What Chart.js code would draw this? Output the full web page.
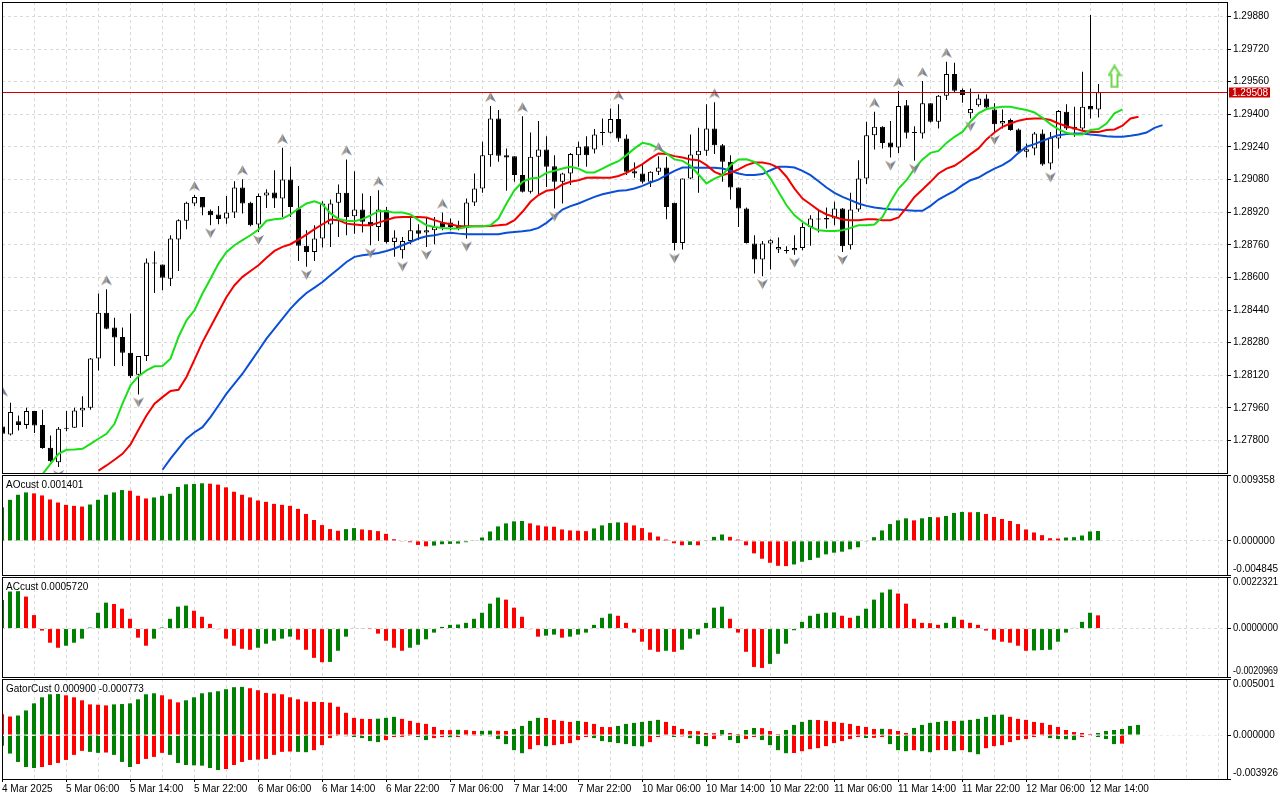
<!DOCTYPE html>
<html>
<head>
<meta charset="utf-8">
<title>GBPUSD H1 - Alligator, AO, AC, Gator</title>
<script src="https://cdn.jsdelivr.net/npm/chart.js"></script>
<style>
  html, body { margin: 0; padding: 0; background: #fff; width: 1280px; height: 800px; overflow: hidden; }
  canvas { position: absolute; left: 0; }
</style>
</head>
<body>
<canvas id="mainChart" width="1280" height="475" style="top:0"></canvas>
<canvas id="aoChart" width="1280" height="101" style="top:475px"></canvas>
<canvas id="acChart" width="1280" height="101" style="top:577px"></canvas>
<canvas id="gatorChart" width="1280" height="121" style="top:679px"></canvas>
<script>
// H1 bars, index 0 = 4 Mar 22:00
const opens = [1.27869,1.27830,1.27895,1.27877,1.27945,1.27877,1.27765,1.27694,1.27858,1.27863,
  1.27948,1.27961,1.28202,1.28427,1.28354,1.28308,1.28231,1.28123,1.28215,1.28670,
  1.28663,1.28594,1.28786,1.28878,1.28963,1.28995,1.28927,1.28909,1.28889,1.28918,
  1.29041,1.28966,1.28860,1.29002,1.29017,1.28987,1.29080,1.28938,1.28755,1.28725,
  1.28791,1.28860,1.28966,1.29015,1.28900,1.28933,1.28873,1.28848,1.28930,1.28774,
  1.28733,1.28779,1.28832,1.28820,1.28832,1.28869,1.28869,1.28856,1.28843,1.28968,
  1.29036,1.29200,1.29380,1.29200,1.29195,1.29102,1.29020,1.29192,1.29228,1.29146,
  1.29069,1.29110,1.29200,1.29244,1.29228,1.29310,1.29310,1.29377,1.29282,1.29121,
  1.29110,1.29069,1.29118,1.29139,1.28966,1.28769,1.29085,1.29200,1.29221,1.29331,
  1.29249,1.29167,1.29041,1.28938,1.28766,1.28688,1.28766,1.28737,1.28733,1.28733,
  1.28745,1.28848,1.28889,1.28884,1.28889,1.28938,1.28758,1.28933,1.29085,1.29298,
  1.29339,1.29262,1.29238,1.29445,1.29311,1.29306,1.29454,1.29364,1.29491,1.29598,
  1.29519,1.29405,1.29445,1.29478,1.29424,1.29355,1.29372,1.29326,1.29216,1.29233,
  1.29306,1.29159,1.29282,1.29413,1.29339,1.29331,1.29441,1.29424];
const highs = [1.27997,1.27986,1.27923,1.27961,1.27945,1.27951,1.27825,1.27866,1.27945,1.27961,
  1.28018,1.28205,1.28521,1.28542,1.28403,1.28354,1.28423,1.28215,1.28693,1.28729,
  1.28663,1.28807,1.28886,1.28971,1.29004,1.28995,1.28933,1.28950,1.29000,1.29072,
  1.29082,1.28971,1.29012,1.29033,1.29126,1.29236,1.29143,1.29048,1.28832,1.28856,
  1.28974,1.28982,1.29056,1.29179,1.29121,1.29012,1.28999,1.29028,1.28946,1.28832,
  1.28799,1.28894,1.28861,1.28897,1.28897,1.28918,1.28889,1.28878,1.28987,1.29110,
  1.29265,1.29441,1.29421,1.29233,1.29195,1.29391,1.29311,1.29367,1.29293,1.29200,
  1.29113,1.29211,1.29265,1.29293,1.29328,1.29380,1.29429,1.29450,1.29301,1.29164,
  1.29151,1.29121,1.29195,1.29192,1.28966,1.29085,1.29301,1.29334,1.29450,1.29459,
  1.29254,1.29200,1.29041,1.28943,1.28807,1.28779,1.28787,1.28796,1.28753,1.28807,
  1.28868,1.28905,1.28930,1.28943,1.28971,1.28941,1.29015,1.29175,1.29364,1.29413,
  1.29342,1.29367,1.29514,1.29470,1.29342,1.29563,1.29454,1.29495,1.29658,1.29653,
  1.29527,1.29527,1.29498,1.29498,1.29454,1.29424,1.29380,1.29331,1.29257,1.29314,
  1.29326,1.29314,1.29421,1.29450,1.29437,1.29609,1.29887,1.29549];
const lows = [1.27825,1.27825,1.27850,1.27858,1.27837,1.27760,1.27696,1.27670,1.27846,1.27863,
  1.27866,1.27951,1.28144,1.28346,1.28166,1.28166,1.28107,1.28026,1.28190,1.28524,
  1.28537,1.28558,1.28632,1.28837,1.28951,1.28905,1.28856,1.28861,1.28864,1.28892,
  1.28914,1.28851,1.28823,1.28941,1.28941,1.28897,1.28897,1.28681,1.28652,1.28681,
  1.28747,1.28750,1.28799,1.28807,1.28815,1.28820,1.28758,1.28779,1.28766,1.28701,
  1.28693,1.28763,1.28783,1.28750,1.28763,1.28832,1.28832,1.28832,1.28791,1.28951,
  1.29015,1.29143,1.29167,1.29025,1.29069,1.29017,1.29012,1.29004,1.29044,1.28938,
  1.28963,1.29053,1.29143,1.29143,1.29208,1.29249,1.29306,1.29265,1.29102,1.29089,
  1.29061,1.29044,1.29102,1.28886,1.28733,1.28737,1.29082,1.29015,1.29197,1.29205,
  1.29069,1.28982,1.28848,1.28766,1.28619,1.28606,1.28639,1.28720,1.28717,1.28712,
  1.28733,1.28755,1.28820,1.28840,1.28856,1.28725,1.28737,1.28922,1.29058,1.29228,
  1.29233,1.29188,1.29211,1.29282,1.29172,1.29282,1.29360,1.29331,1.29470,1.29506,
  1.29457,1.29380,1.29437,1.29429,1.29314,1.29331,1.29319,1.29211,1.29188,1.29200,
  1.29148,1.29130,1.29233,1.29323,1.29290,1.29323,1.29380,1.29385];
const closes = [1.27833,1.27940,1.27877,1.27945,1.27874,1.27763,1.27699,1.27858,1.27863,1.27948,
  1.27961,1.28202,1.28427,1.28349,1.28305,1.28231,1.28116,1.28215,1.28673,1.28668,
  1.28598,1.28791,1.28881,1.28966,1.28995,1.28943,1.28905,1.28887,1.28918,1.29041,
  1.28963,1.28856,1.29000,1.29017,1.28987,1.29080,1.28946,1.28755,1.28725,1.28791,
  1.28963,1.28963,1.29015,1.28897,1.28933,1.28873,1.28851,1.28933,1.28774,1.28796,
  1.28779,1.28832,1.28815,1.28832,1.28848,1.28848,1.28848,1.28843,1.28968,1.29036,
  1.29200,1.29380,1.29197,1.29188,1.29102,1.29020,1.29192,1.29228,1.29143,1.29069,
  1.29110,1.29205,1.29241,1.29200,1.29301,1.29308,1.29377,1.29282,1.29118,1.29110,
  1.29069,1.29118,1.29139,1.28946,1.28769,1.29085,1.29203,1.29221,1.29331,1.29249,
  1.29167,1.29041,1.28938,1.28769,1.28688,1.28766,1.28783,1.28750,1.28730,1.28745,
  1.28848,1.28889,1.28884,1.28892,1.28938,1.28753,1.28933,1.29085,1.29298,1.29339,
  1.29260,1.29238,1.29441,1.29310,1.29308,1.29454,1.29364,1.29491,1.29598,1.29516,
  1.29495,1.29426,1.29478,1.29434,1.29352,1.29367,1.29323,1.29216,1.29229,1.29306,
  1.29154,1.29285,1.29416,1.29331,1.29326,1.29437,1.29424,1.29508];

// Alligator lines (already shifted forward), first bar index of each
const lipsStart = 5;
const lipsValues = [1.27635,1.27686,1.27735,1.27755,1.27756,1.27760,1.27784,1.27809,1.27833,1.27882,
  1.27981,1.28071,1.28116,1.28144,1.28164,1.28166,1.28202,1.28308,1.28390,1.28439,
  1.28521,1.28594,1.28668,1.28725,1.28758,1.28783,1.28807,1.28835,1.28878,1.28886,
  1.28889,1.28909,1.28938,1.28963,1.28974,1.28959,1.28914,1.28887,1.28878,1.28876,
  1.28886,1.28905,1.28925,1.28925,1.28918,1.28918,1.28909,1.28881,1.28856,1.28848,
  1.28843,1.28840,1.28840,1.28848,1.28851,1.28851,1.28856,1.28889,1.28963,1.29028,
  1.29069,1.29085,1.29089,1.29113,1.29123,1.29134,1.29143,1.29134,1.29115,1.29115,
  1.29134,1.29154,1.29170,1.29200,1.29233,1.29260,1.29252,1.29233,1.29208,1.29179,
  1.29172,1.29148,1.29105,1.29061,1.29085,1.29102,1.29151,1.29179,1.29180,1.29167,
  1.29138,1.29085,1.29020,1.28954,1.28905,1.28873,1.28848,1.28832,1.28828,1.28828,
  1.28832,1.28843,1.28856,1.28856,1.28860,1.28897,1.28971,1.29036,1.29077,1.29134,
  1.29179,1.29211,1.29221,1.29260,1.29290,1.29314,1.29364,1.29405,1.29426,1.29432,
  1.29437,1.29437,1.29429,1.29421,1.29409,1.29383,1.29352,1.29326,1.29310,1.29301,
  1.29301,1.29323,1.29328,1.29355,1.29405,1.29424];
const teethStart = 12;
const teethValues = [1.27653,1.27678,1.27706,1.27735,1.27781,1.27853,1.27923,1.27981,
  1.28013,1.28043,1.28049,1.28112,1.28197,1.28283,1.28357,1.28431,1.28504,1.28562,
  1.28603,1.28632,1.28660,1.28697,1.28730,1.28750,1.28763,1.28786,1.28810,1.28837,
  1.28861,1.28884,1.28881,1.28864,1.28860,1.28856,1.28856,1.28869,1.28881,1.28894,
  1.28897,1.28897,1.28897,1.28894,1.28881,1.28869,1.28861,1.28851,1.28851,1.28851,
  1.28851,1.28853,1.28856,1.28860,1.28881,1.28922,1.28971,1.29004,1.29025,1.29031,
  1.29056,1.29069,1.29077,1.29089,1.29090,1.29089,1.29089,1.29098,1.29113,1.29134,
  1.29156,1.29184,1.29208,1.29205,1.29195,1.29188,1.29179,1.29175,1.29151,1.29118,
  1.29102,1.29113,1.29130,1.29151,1.29164,1.29164,1.29156,1.29138,1.29094,1.29036,
  1.28987,1.28959,1.28930,1.28909,1.28897,1.28884,1.28881,1.28881,1.28886,1.28886,
  1.28881,1.28881,1.28894,1.28943,1.28995,1.29031,1.29069,1.29110,1.29134,1.29148,
  1.29175,1.29205,1.29233,1.29277,1.29311,1.29339,1.29355,1.29369,1.29377,1.29380,
  1.29380,1.29372,1.29355,1.29342,1.29331,1.29319,1.29314,1.29314,1.29323,1.29326,
  1.29344,1.29380,1.29388];
const jawStart = 20;
const jawValues = [1.27657,1.27711,1.27760,1.27809,1.27841,1.27866,1.27915,1.27972,1.28030,1.28079,
  1.28128,1.28185,1.28242,1.28300,1.28349,1.28398,1.28447,1.28488,1.28524,1.28550,
  1.28578,1.28611,1.28643,1.28676,1.28701,1.28709,1.28714,1.28720,1.28730,1.28742,
  1.28758,1.28774,1.28791,1.28802,1.28807,1.28815,1.28819,1.28815,1.28812,1.28812,
  1.28812,1.28812,1.28812,1.28819,1.28823,1.28827,1.28832,1.28843,1.28868,1.28900,
  1.28933,1.28950,1.28963,1.28979,1.28995,1.29008,1.29017,1.29025,1.29028,1.29036,
  1.29049,1.29066,1.29080,1.29102,1.29123,1.29139,1.29139,1.29138,1.29138,1.29138,
  1.29134,1.29123,1.29110,1.29102,1.29102,1.29107,1.29126,1.29143,1.29143,1.29139,
  1.29123,1.29102,1.29072,1.29041,1.29015,1.28995,1.28979,1.28963,1.28951,1.28943,
  1.28938,1.28935,1.28933,1.28930,1.28927,1.28927,1.28951,1.28982,1.29004,1.29025,
  1.29053,1.29077,1.29090,1.29113,1.29134,1.29151,1.29175,1.29211,1.29241,1.29254,
  1.29270,1.29285,1.29298,1.29303,1.29306,1.29306,1.29301,1.29298,1.29293,1.29290,
  1.29290,1.29295,1.29301,1.29311,1.29334,1.29347];

const upFractals = [0, 13, 24, 30, 35, 43, 47, 55, 61, 65, 77, 82, 89, 109, 112, 115, 118];
const downFractals = [7, 17, 26, 32, 38, 46, 50, 53, 58, 69, 84, 95, 99, 105, 111, 114, 121, 124, 131];
const buySignal = { x: 139, y: 1.29586 };

const aoValues = [0.004782,0.005834,0.006551,0.006886,0.006743,0.006456,0.005882,0.005451,0.005117,0.004973,
  0.004878,0.005165,0.005834,0.006551,0.006886,0.007221,0.007125,0.006408,0.006025,0.006169,
  0.006408,0.006695,0.007651,0.008034,0.008082,0.008177,0.008129,0.007986,0.007603,0.006982,
  0.006551,0.006169,0.005738,0.005547,0.005260,0.005117,0.004973,0.004543,0.003826,0.002965,
  0.002248,0.001674,0.001435,0.001674,0.001817,0.001626,0.001530,0.001387,0.001004,0.000239,
  -0.000096,-0.000192,-0.000574,-0.000765,-0.000669,-0.000478,-0.000430,-0.000383,-0.000191,0.000048,
  0.000478,0.001339,0.002056,0.002487,0.002774,0.002821,0.002487,0.002200,0.002056,0.002008,
  0.001626,0.001482,0.001435,0.001387,0.001769,0.002200,0.002534,0.002630,0.002582,0.002200,
  0.001817,0.001196,0.000622,0.000191,-0.000335,-0.000622,-0.000574,-0.000622,0.000096,0.000574,
  0.000909,0.000574,0.000191,-0.000622,-0.001769,-0.002534,-0.003108,-0.003539,-0.003587,-0.003347,
  -0.002965,-0.002726,-0.002391,-0.001913,-0.001674,-0.001530,-0.001196,-0.000909,-0.000096,0.000526,
  0.001482,0.002391,0.002917,0.003204,0.002917,0.003204,0.003395,0.003347,0.003539,0.003969,
  0.004113,0.004065,0.004090,0.003826,0.003395,0.003108,0.002821,0.002391,0.001626,0.001196,
  0.000813,0.000383,0.000335,0.000478,0.000526,0.000765,0.001339,0.001401];
const acValues = [0.001239,0.001603,0.001618,0.001385,0.000583,-0.000087,-0.000612,-0.000831,-0.000743,-0.000612,
  -0.000437,0.000044,0.000685,0.001122,0.001064,0.000860,0.000423,-0.000394,-0.000743,-0.000437,
  0.000044,0.000423,0.000947,0.000991,0.000772,0.000510,0.000204,-0.000029,-0.000437,-0.000743,
  -0.000875,-0.000918,-0.000831,-0.000656,-0.000525,-0.000437,-0.000350,-0.000481,-0.000918,-0.001268,
  -0.001458,-0.001443,-0.000962,-0.000350,0.000029,0.000015,-0.000007,-0.000219,-0.000525,-0.000831,
  -0.000962,-0.000831,-0.000700,-0.000466,-0.000175,0.000073,0.000160,0.000175,0.000248,0.000423,
  0.000685,0.001079,0.001341,0.001253,0.000904,0.000510,-0.000029,-0.000350,-0.000306,-0.000262,
  -0.000394,-0.000350,-0.000262,-0.000175,0.000160,0.000466,0.000641,0.000554,0.000248,-0.000175,
  -0.000568,-0.000918,-0.001006,-0.000962,-0.001006,-0.000918,-0.000437,-0.000262,0.000248,0.000904,
  0.000947,0.000423,-0.000175,-0.001006,-0.001662,-0.001705,-0.001530,-0.001093,-0.000656,-0.000073,
  0.000292,0.000554,0.000641,0.000685,0.000700,0.000554,0.000466,0.000554,0.000860,0.001253,
  0.001560,0.001691,0.001516,0.001079,0.000423,0.000248,0.000233,0.000160,0.000248,0.000510,
  0.000379,0.000248,0.000160,-0.000087,-0.000481,-0.000568,-0.000612,-0.000743,-0.000962,-0.000947,
  -0.000932,-0.000918,-0.000568,-0.000175,0.000029,0.000292,0.000685,0.000572];
const gatorUpper = [0.001864,0.001653,0.001743,0.002194,0.002826,0.003367,0.003637,0.003667,0.003547,0.003367,
  0.003096,0.002735,0.002705,0.002645,0.002735,0.002766,0.002826,0.003186,0.003637,0.003727,
  0.003547,0.003186,0.002916,0.003096,0.003367,0.003727,0.003818,0.003908,0.004088,0.004269,
  0.004299,0.004178,0.003998,0.003758,0.003697,0.003637,0.003367,0.003186,0.002976,0.002960,
  0.002945,0.002886,0.002525,0.001984,0.001533,0.001443,0.001428,0.001458,0.001533,0.001623,
  0.001443,0.001263,0.001082,0.000992,0.000721,0.000451,0.000436,0.000466,0.000436,0.000361,
  0.000376,0.000391,0.000376,0.000361,0.000541,0.000812,0.001263,0.001533,0.001518,0.001353,
  0.001263,0.001172,0.001263,0.001172,0.000992,0.000721,0.000706,0.000812,0.000992,0.001082,
  0.001172,0.001263,0.001353,0.001172,0.000812,0.000541,0.000361,0.000346,0.000180,0.000165,
  0.000451,0.000180,0.000090,0.000451,0.000631,0.000616,0.000361,0.000090,0.000451,0.000902,
  0.001172,0.001353,0.001338,0.001263,0.001172,0.001082,0.000992,0.000812,0.000721,0.000541,
  0.000556,0.000526,0.000361,0.000180,0.000631,0.000902,0.001082,0.001172,0.001263,0.001248,
  0.001278,0.001353,0.001443,0.001623,0.001804,0.001819,0.001623,0.001443,0.001353,0.001172,
  0.001082,0.000902,0.000721,0.000451,0.000271,0.000180,0.000090,0.000180,0.000361,0.000451,
  0.000541,0.000812,0.000900];
const gatorLower = [-0.000962,-0.001653,-0.002405,-0.002856,-0.002946,-0.002856,-0.002675,-0.002495,-0.002224,-0.001774,
  -0.001413,-0.001503,-0.001593,-0.001563,-0.001774,-0.002405,-0.002856,-0.002585,-0.002134,-0.001954,
  -0.001593,-0.001774,-0.002495,-0.002675,-0.002705,-0.002735,-0.002946,-0.003126,-0.003036,-0.002675,
  -0.002405,-0.002224,-0.002194,-0.002134,-0.001774,-0.001503,-0.001473,-0.001503,-0.001533,-0.001353,
  -0.000902,-0.000271,-0.000090,-0.000105,-0.000180,-0.000271,-0.000541,-0.000631,-0.000451,-0.000180,
  -0.000165,-0.000090,-0.000180,-0.000451,-0.000271,-0.000180,-0.000195,-0.000180,-0.000090,-0.000075,
  -0.000090,-0.000105,-0.000361,-0.000812,-0.001353,-0.001623,-0.001263,-0.000902,-0.000992,-0.000902,
  -0.000812,-0.000721,-0.000451,-0.000180,-0.000271,-0.000541,-0.000631,-0.000721,-0.000812,-0.000992,
  -0.001007,-0.000631,-0.000180,-0.000060,-0.000180,-0.000120,-0.000271,-0.000812,-0.000992,-0.000361,
  -0.000090,-0.000451,-0.000721,-0.000361,-0.000180,-0.000451,-0.000902,-0.001353,-0.001623,-0.001608,
  -0.001443,-0.001263,-0.001172,-0.000992,-0.000721,-0.000541,-0.000361,-0.000180,-0.000271,-0.000256,
  -0.000180,-0.000812,-0.001353,-0.001443,-0.001353,-0.001443,-0.001533,-0.001353,-0.001338,-0.001443,
  -0.001353,-0.001533,-0.001713,-0.001172,-0.000992,-0.000902,-0.000631,-0.000451,-0.000361,-0.000180,
  -0.000090,-0.000271,-0.000361,-0.000376,-0.000451,-0.000180,-0.000090,-0.000180,-0.000361,-0.000812,
  -0.000773];

// axis labels
const priceTicks = [1.27800,1.27960,1.28120,1.28280,1.28440,1.28600,1.28760,1.28920,1.29080,1.29240,1.29400,1.29560,1.29720,1.29880];
const aoRange = [-0.004845, 0.009358];
const acRange = [-0.0020969, 0.0022321];
const gatorRange = [-0.003926, 0.005001];
const timeLabels = ["4 Mar 2025","5 Mar 06:00","5 Mar 14:00","5 Mar 22:00","6 Mar 06:00","6 Mar 14:00",
  "6 Mar 22:00","7 Mar 06:00","7 Mar 14:00","7 Mar 22:00","10 Mar 06:00","10 Mar 14:00",
  "10 Mar 22:00","11 Mar 06:00","11 Mar 14:00","11 Mar 22:00","12 Mar 06:00","12 Mar 14:00"];

const GREEN = "#008000";
const RED = "#ff0000";
const GRID = "#d9d9d9";
const FONT_FAMILY = "Liberation Sans";
const FONT_SIZE = 10;
const AXIS_W = 53;

Chart.defaults.font.family = FONT_FAMILY;
Chart.defaults.font.size = FONT_SIZE;
Chart.defaults.color = "#000";

const gridTicks = (scale) => {
  const ticks = [];
  for (let k = 0; k <= 152; k += 4) ticks.push({ value: k });
  scale.ticks = ticks;
};

const trendColors = (values, first, useAbs) =>
  values.map((v, i) => {
    if (i === 0) return first;
    const a = useAbs ? Math.abs(v) : v;
    const b = useAbs ? Math.abs(values[i - 1]) : values[i - 1];
    return a > b ? GREEN : RED;
  });

const makeFractal = (up) => {
  const c = document.createElement("canvas");
  c.width = 11;
  c.height = 32;
  const g = c.getContext("2d");
  const top = up ? 2 : 19;
  const tipY = up ? top : top + 10;
  const baseY = up ? top + 10 : top;
  const notchY = up ? top + 7 : top + 3;
  g.fillStyle = "#a69a86";
  g.beginPath();
  g.moveTo(5.5, tipY); g.lineTo(0, baseY); g.lineTo(5.5, notchY);
  g.closePath();
  g.fill();
  g.fillStyle = "#77829a";
  g.beginPath();
  g.moveTo(5.5, tipY); g.lineTo(11, baseY); g.lineTo(5.5, notchY);
  g.closePath();
  g.fill();
  return c;
};

const makeSignalArrow = () => {
  const c = document.createElement("canvas");
  c.width = 14;
  c.height = 24;
  const g = c.getContext("2d");
  g.beginPath();
  g.moveTo(7, 1.5); g.lineTo(12.5, 10.5); g.lineTo(10, 10.5); g.lineTo(10, 22.5);
  g.lineTo(4, 22.5); g.lineTo(4, 10.5); g.lineTo(1.5, 10.5);
  g.closePath();
  g.fillStyle = "#ffffff";
  g.fill();
  g.strokeStyle = "#33c833";
  g.lineWidth = 1.8;
  g.stroke();
  g.strokeStyle = "#d6e85a";
  g.lineWidth = 0.6;
  g.stroke();
  return c;
};

const paneFrame = (extra) => ({
  id: "paneFrame",
  afterDraw(chart) {
    const { ctx, chartArea: a, width } = chart;
    const yScale = chart.scales.y;
    ctx.save();
    ctx.font = FONT_SIZE + "px '" + FONT_FAMILY + "'";
    ctx.textBaseline = "middle";
    if (extra.bid !== undefined) {
      const py = Math.round(yScale.getPixelForValue(extra.bid)) + 0.5;
      ctx.strokeStyle = "#d00000";
      ctx.lineWidth = 1;
      ctx.beginPath();
      ctx.moveTo(a.left, py);
      ctx.lineTo(a.right, py);
      ctx.stroke();
      ctx.fillStyle = "#c80000";
      ctx.fillRect(a.right + 2, py - 5, 41, 10);
      ctx.fillStyle = "#fff";
      ctx.fillText(extra.bid.toFixed(5), a.right + 5, py + 0.5);
    }
    ctx.strokeStyle = "#000";
    ctx.lineWidth = 1;
    ctx.strokeRect(a.left + 0.5, a.top + 0.5, a.right - a.left, a.bottom - a.top);
    ctx.fillStyle = "#000";
    if (extra.title) ctx.fillText(extra.title, a.left + 4, a.top + 10);
    if (extra.range) {
      const [lo, hi] = extra.range;
      const x = a.right + 6;
      const room = width - x - 2;
      ctx.fillText(hi.toFixed(extra.decimals), x, a.top + 5.5, room);
      ctx.fillText((0).toFixed(extra.decimals), x, yScale.getPixelForValue(0), room);
      ctx.fillText(lo.toFixed(extra.decimals), x, a.bottom - 5.5, room);
    }
    ctx.restore();
  }
});

const baseOptions = (padding) => ({
  responsive: false,
  animation: false,
  events: [],
  layout: { padding, autoPadding: false },
  plugins: { legend: { display: false }, tooltip: { enabled: false } }
});

// ---------- main price pane ----------
const idx = opens.map((_, i) => i);
const upArrow = makeFractal(true);
const downArrow = makeFractal(false);

const mainOptions = baseOptions({ left: 2, top: 2, right: 0, bottom: 2 });
mainOptions.scales = {
  x: {
    type: "linear",
    min: -0.0625,
    max: 153.0625,
    offset: false,
    grid: { color: GRID, drawTicks: false, offset: false },
    border: { display: false, dash: [3, 3] },
    ticks: { display: false },
    afterBuildTicks: gridTicks,
    afterFit: (s) => { s.height = 0; s.paddingLeft = 0; s.paddingRight = 0; }
  },
  y: {
    position: "right",
    min: 1.27641,
    max: 1.29951,
    grid: { color: GRID, tickLength: 4, tickColor: "#000", tickBorderDash: [] },
    border: { display: false, dash: [3, 3] },
    ticks: { padding: 2, color: "#000", callback: (v) => v.toFixed(5) },
    afterBuildTicks: (s) => { s.ticks = priceTicks.map((v) => ({ value: v })); },
    afterFit: (s) => { s.width = AXIS_W; s.paddingTop = 0; s.paddingBottom = 0; }
  }
};

new Chart(document.getElementById("mainChart"), {
  type: "bar",
  data: {
    datasets: [
      {
        type: "scatter",
        data: [buySignal],
        pointStyle: makeSignalArrow(),
        pointRadius: 6,
        clip: 0,
        order: 0
      },
      {
        type: "scatter",
        data: upFractals.map((i) => ({ x: i, y: highs[i] })),
        pointStyle: upArrow,
        pointRadius: 5,
        clip: 0,
        order: 0
      },
      {
        type: "scatter",
        data: downFractals.map((i) => ({ x: i, y: lows[i] })),
        pointStyle: downArrow,
        pointRadius: 5,
        clip: 0,
        order: 0
      },
      {
        type: "line",
        data: lipsValues.map((v, i) => ({ x: lipsStart + i, y: v })),
        borderColor: "#19e019",
        borderWidth: 2,
        pointRadius: 0,
        tension: 0,
        clip: 0,
        order: 1
      },
      {
        type: "line",
        data: teethValues.map((v, i) => ({ x: teethStart + i, y: v })),
        borderColor: "#f20000",
        borderWidth: 2,
        pointRadius: 0,
        tension: 0,
        clip: 0,
        order: 2
      },
      {
        type: "line",
        data: jawValues.map((v, i) => ({ x: jawStart + i, y: v })),
        borderColor: "#0a4fd6",
        borderWidth: 2,
        pointRadius: 0,
        tension: 0,
        clip: 0,
        order: 3
      },
      {
        type: "bar",
        data: idx.map((i) => ({ x: i, y: [Math.min(opens[i], closes[i]), Math.max(opens[i], closes[i])] })),
        backgroundColor: idx.map((i) => (closes[i] >= opens[i] ? "#ffffff" : "#000000")),
        borderColor: "#000",
        borderWidth: 1,
        borderSkipped: false,
        barThickness: 5,
        minBarLength: 1,
        grouped: false,
        inflateAmount: 0,
        clip: 0,
        order: 5
      },
      {
        type: "bar",
        data: idx.map((i) => ({ x: i, y: [lows[i], highs[i]] })),
        backgroundColor: "#000",
        borderWidth: 0,
        barThickness: 1,
        grouped: false,
        inflateAmount: 0,
        clip: 0,
        order: 6
      }
    ]
  },
  options: mainOptions,
  plugins: [paneFrame({ bid: closes[closes.length - 1] })]
});

// ---------- indicator panes ----------
const histDataset = (values, colors) => ({
  type: "bar",
  data: values.map((v, i) => ({ x: i, y: v })),
  backgroundColor: colors,
  borderWidth: 0,
  barThickness: 4,
  grouped: false,
  inflateAmount: 0,
  clip: 0
});

const histChart = (canvasId, datasets, range, title, decimals, withTime) => {
  const options = baseOptions({ left: 2, top: 0, right: 0, bottom: withTime ? 0 : 1 });
  options.scales = {
    x: {
      type: "linear",
      min: 0,
      max: 153.125,
      offset: false,
      grid: {
        color: GRID,
        offset: false,
        drawTicks: withTime,
        tickLength: 3,
        tickBorderDash: [],
        tickColor: (c) => (c.tick && c.tick.value % 8 === 0 && timeLabels[c.tick.value / 8] ? "#000" : "rgba(0,0,0,0)")
      },
      border: { display: false, dash: [3, 3] },
      ticks: {
        display: withTime,
        autoSkip: false,
        maxRotation: 0,
        minRotation: 0,
        align: "start",
        padding: 1,
        color: "#000",
        callback: (v) => (v % 8 === 0 && timeLabels[v / 8] ? timeLabels[v / 8] : "")
      },
      afterBuildTicks: gridTicks,
      afterFit: (s) => { s.height = withTime ? 21 : 0; s.paddingLeft = 0; s.paddingRight = 0; }
    },
    y: {
      position: "right",
      min: range[0],
      max: range[1],
      grid: {
        color: (c) => (c.tick && c.tick.value === 0 ? (withTime ? "#ececec" : GRID) : "rgba(0,0,0,0)"),
        tickLength: 4,
        tickColor: "#000",
        tickBorderDash: [],
        z: withTime ? 1 : 0
      },
      border: { display: false, dash: [3, 3] },
      ticks: { display: false },
      afterBuildTicks: (s) => { s.ticks = [{ value: range[0] }, { value: 0 }, { value: range[1] }]; },
      afterFit: (s) => { s.width = AXIS_W; s.paddingTop = 0; s.paddingBottom = 0; }
    }
  };
  return new Chart(document.getElementById(canvasId), {
    type: "bar",
    data: { datasets },
    options,
    plugins: [paneFrame({ title, range, decimals })]
  });
};

const last = (arr) => arr[arr.length - 1];

histChart("aoChart",
  [histDataset(aoValues, trendColors(aoValues, GREEN, false))],
  aoRange, "AOcust " + last(aoValues).toFixed(6), 6, false);

histChart("acChart",
  [histDataset(acValues, trendColors(acValues, GREEN, false))],
  acRange, "ACcust " + last(acValues).toFixed(7), 7, false);

histChart("gatorChart",
  [
    histDataset(gatorUpper, trendColors(gatorUpper, RED, true)),
    histDataset(gatorLower, trendColors(gatorLower, GREEN, true))
  ],
  gatorRange, "GatorCust " + last(gatorUpper).toFixed(6) + " " + last(gatorLower).toFixed(6), 6, true);
</script>
</body>
</html>
